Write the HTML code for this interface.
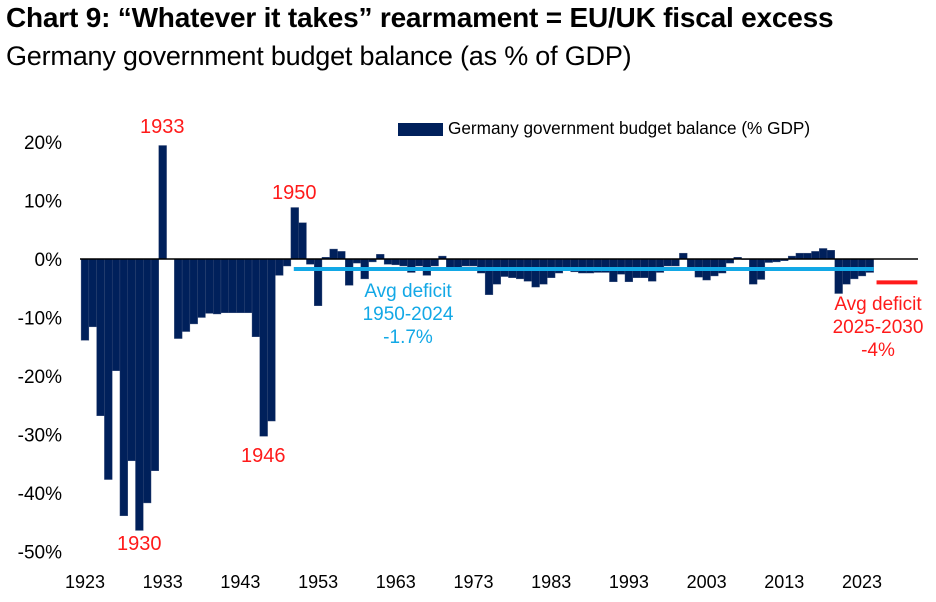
<!DOCTYPE html>
<html><head><meta charset="utf-8"><style>
body{margin:0;background:#fff;font-family:"Liberation Sans",sans-serif;}
#wrap{position:relative;width:936px;height:602px;overflow:hidden;}
.t{position:absolute;white-space:nowrap;}
</style></head><body>
<div id="wrap">
<div class="t" style="left:6px;top:2px;font-size:28px;font-weight:bold;color:#000;letter-spacing:-0.2px">Chart 9: “Whatever it takes” rearmament = EU/UK fiscal excess</div>
<div class="t" style="left:6px;top:41px;font-size:27px;color:#000;letter-spacing:-0.2px">Germany government budget balance (as % of GDP)</div>
<svg id="svg" width="936" height="602" style="position:absolute;left:0;top:0"></svg>
</div>
<script>
const startYear = 1923;
const values = [-13.9,-11.6,-26.8,-37.7,-19.1,-43.9,-34.5,-46.4,-41.7,-36.2,19.4,0,-13.6,-12.4,-11.1,-10.0,-9.3,-9.4,-9.2,-9.2,-9.2,-9.2,-13.3,-30.3,-27.7,-2.8,-1.2,
8.8,6.2,-0.9,-8.0,0.3,1.7,1.3,-4.5,-0.7,-3.4,-0.5,0.8,-0.9,-1.0,-1.2,-2.3,-1.2,-2.8,-1.2,0.5,
-1.4,-2.0,-1.2,-1.2,-2.4,-6.1,-4.3,-3.0,-3.2,-3.4,-3.8,-4.8,-4.3,-3.2,-2.4,-2.0,-2.2,-2.4,-2.4,
-2.3,-2.3,-3.9,-2.6,-3.9,-3.2,-3.2,-3.8,-2.3,-1.2,-1.2,1.0,-1.7,-3.1,-3.6,-2.9,-2.4,-0.7,0.3,-0.1,-4.3,-3.5,-0.6,-0.5,-0.3,0.5,1.0,1.0,1.3,1.8,1.5,-5.9,-4.3,-3.4,-2.9,-2.3];
const yTicks = [20,10,0,-10,-20,-30,-40,-50];
const xTicks = [1923,1933,1943,1953,1963,1973,1983,1993,2003,2013,2023];
const avgHist = -1.7, avgHistFrom = 1950, avgHistTo = 2024;
const avgProj = -4, avgProjFrom = 2025, avgProjTo = 2030;

const X = y => 85 + (y - 1923) * 7.77;
const Y = v => 259 - v * 5.85;
const svg = document.getElementById('svg');
const NS = 'http://www.w3.org/2000/svg';
function mk(tag, attrs, txt){const e=document.createElementNS(NS,tag);for(const k in attrs)e.setAttribute(k,attrs[k]);if(txt!=null)e.textContent=txt;svg.appendChild(e);return e;}

yTicks.forEach(t=>{
  const e=mk('text',{x:62,y:Y(t)+7,'text-anchor':'end','font-size':19,fill:'#000','font-family':'Liberation Sans'},t+'%');
  
  
});
xTicks.forEach(t=>{
  const e=mk('text',{x:X(t),y:588,'text-anchor':'middle','font-size':18,fill:'#000','font-family':'Liberation Sans'},t);
  
  
});
values.forEach((v,i)=>{
  const yr=startYear+i;
  const r=mk('rect',{x:X(yr)-3.9,y:Math.min(Y(v),Y(0)),width:7.77,height:Math.abs(Y(v)-Y(0)),fill:'#00205b',stroke:'#3b4f7a','stroke-width':0.4});
  
  
});
const z=mk('line',{x1:80,x2:918,y1:Y(0),y2:Y(0),stroke:'#000','stroke-width':1.5});


const a1=mk('line',{x1:X(avgHistFrom)-1,x2:X(avgHistTo)+4,y1:Y(avgHist),y2:Y(avgHist),stroke:'#12a8e6','stroke-width':4});


const a2=mk('line',{x1:X(avgProjFrom)-1,x2:X(avgProjTo)+1,y1:Y(avgProj),y2:Y(avgProj),stroke:'#ff1a1a','stroke-width':4});


</script>
<div class="t" style="left:398px;top:123px;width:45px;height:13px;background:#00205b"></div>
<div class="t" style="left:448px;top:118px;font-size:17.2px;color:#000">Germany government budget balance (% GDP)</div>
<div class="t" style="left:140px;top:116px;font-size:20px;color:#ff1a1a">1933</div>
<div class="t" style="left:272px;top:182px;font-size:20px;color:#ff1a1a">1950</div>
<div class="t" style="left:241px;top:445px;font-size:20px;color:#ff1a1a">1946</div>
<div class="t" style="left:117px;top:533px;font-size:20px;color:#ff1a1a">1930</div>
<div class="t" style="left:350px;top:280px;width:116px;text-align:center;font-size:19px;line-height:23px;color:#12a8e6">Avg deficit<br>1950-2024<br>-1.7%</div>
<div class="t" style="left:820px;top:293px;width:116px;text-align:center;font-size:19px;line-height:23px;color:#ff1a1a">Avg deficit<br>2025-2030<br>-4%</div>
</body></html>
